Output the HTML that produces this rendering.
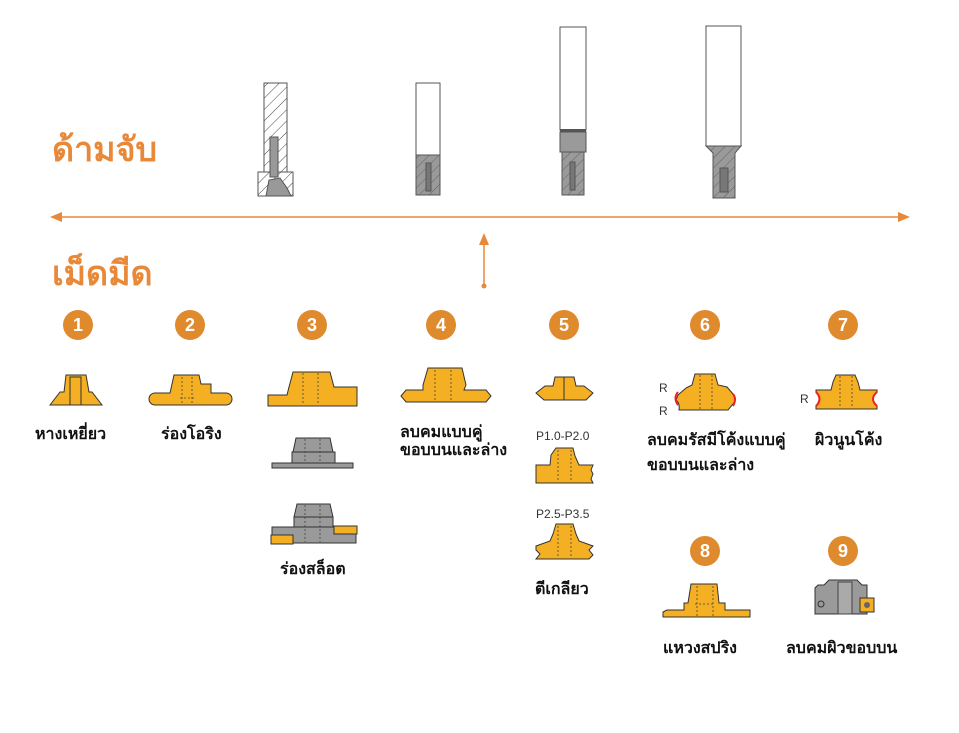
<!DOCTYPE html>
<html><head><meta charset="utf-8"><style>
body{margin:0;background:#fff;}
svg text{font-family:"Liberation Sans","Noto Sans CJK SC",sans-serif;}
.t{font-weight:bold;font-size:16px;fill:#111;}
.n{font-weight:bold;font-size:18px;fill:#fff;text-anchor:middle;}
.o{fill:#F5AF22;stroke:#333;stroke-width:1;}
.g{fill:#9a9a9a;stroke:#333;stroke-width:1;}
.d{stroke:#444;stroke-width:0.8;stroke-dasharray:2 2;fill:none;}
</style></head><body>
<svg width="959" height="728" xmlns="http://www.w3.org/2000/svg">
<defs>
<pattern id="h" width="8" height="8" patternUnits="userSpaceOnUse" patternTransform="rotate(45)"><rect width="8" height="8" fill="#fff"/><line x1="0" y1="0" x2="0" y2="8" stroke="#444" stroke-width="1"/></pattern>
<pattern id="hg" width="7" height="7" patternUnits="userSpaceOnUse" patternTransform="rotate(45)"><rect width="7" height="7" fill="#9a9a9a"/><line x1="0" y1="0" x2="0" y2="7" stroke="#555" stroke-width="0.8"/></pattern>
</defs>
<text x="52" y="161" font-size="34" font-weight="bold" fill="#E8893A">ด้ามจับ</text>
<text x="52" y="285" font-size="34" font-weight="bold" fill="#E8893A">เม็ดมีด</text>
<line x1="60" y1="217" x2="900" y2="217" stroke="#E8893A" stroke-width="1.5"/>
<polygon points="50,217 62,212 62,222" fill="#E8893A"/>
<polygon points="910,217 898,212 898,222" fill="#E8893A"/>
<line x1="484" y1="286" x2="484" y2="243" stroke="#E8893A" stroke-width="1.5"/>
<polygon points="484,233 479,245 489,245" fill="#E8893A"/>
<circle cx="484" cy="286" r="2.5" fill="#E8893A"/>
<!-- holder 1 -->
<rect x="264" y="83" width="23" height="90" fill="url(#h)" stroke="#555"/>
<rect x="258" y="172" width="35" height="24" fill="url(#h)" stroke="#555"/>
<rect x="270" y="137" width="8" height="40" fill="#999" stroke="#555"/>
<polygon points="266,196 269,180 280,178 287,188 291,196" fill="#999" stroke="#555"/>
<!-- holder 2 -->
<rect x="416" y="83" width="24" height="72" fill="#fff" stroke="#555"/>
<rect x="416" y="155" width="24" height="40" fill="url(#hg)" stroke="#555"/>
<rect x="426" y="163" width="5" height="28" fill="#777" stroke="#555"/>
<!-- holder 3 -->
<rect x="560" y="27" width="26" height="103" fill="#fff" stroke="#555"/>
<rect x="560" y="129" width="26" height="3" fill="#555"/>
<rect x="560" y="132" width="26" height="20" fill="#9a9a9a" stroke="#555"/>
<rect x="562" y="152" width="22" height="43" fill="url(#hg)" stroke="#555"/>
<rect x="570" y="162" width="5" height="28" fill="#777" stroke="#555"/>
<!-- holder 4 -->
<rect x="706" y="26" width="35" height="120" fill="#fff" stroke="#555"/>
<polygon points="706,146 741,146 735,153 735,198 713,198 713,153" fill="url(#hg)" stroke="#555"/>
<rect x="720" y="168" width="8" height="24" fill="#777" stroke="#555"/>

<g fill="#E08A2E">
<circle cx="78" cy="325" r="15"/><circle cx="190" cy="325" r="15"/><circle cx="312" cy="325" r="15"/><circle cx="441" cy="325" r="15"/><circle cx="564" cy="325" r="15"/><circle cx="705" cy="325" r="15"/><circle cx="843" cy="325" r="15"/><circle cx="705" cy="551" r="15"/><circle cx="843" cy="551" r="15"/></g>
<text class="n" x="78" y="331">1</text><text class="n" x="190" y="331">2</text><text class="n" x="312" y="331">3</text><text class="n" x="441" y="331">4</text><text class="n" x="564" y="331">5</text><text class="n" x="705" y="331">6</text><text class="n" x="843" y="331">7</text><text class="n" x="705" y="557">8</text><text class="n" x="843" y="557">9</text>

<!-- insert 1 -->
<polygon class="o" points="50,405 60,392 64,392 66,375 86,375 89,392 92,392 102,405"/>
<rect x="70" y="377" width="11" height="28" class="o"/>
<!-- insert 2 -->
<path class="o" d="M155,393 L170,393 L172,384 L174,375 L199,375 L201,384 L211,384 L211,393 L226,393 A5,5 0 0 1 226,405 L155,405 A5,5 0 0 1 155,393Z"/>
<path class="d" d="M182,377 V404 M192,377 V404 M180,398 H195"/>
<!-- insert 3 -->
<polygon class="o" points="268,395 287,395 289,387 293,372 330,372 334,387 357,387 357,406 268,406"/>
<path class="d" d="M303,373 V405 M318,373 V405"/>
<rect x="272" y="463" width="81" height="5" class="g"/>
<rect x="292" y="452" width="43" height="11" class="g"/>
<polygon class="g" points="293,452 296,438 330,438 333,452"/>
<path class="d" d="M305,439 V462 M320,439 V462"/>
<rect x="272" y="527" width="84" height="16" class="g"/>
<rect x="294" y="517" width="39" height="10" class="g"/>
<polygon class="g" points="294,517 297,504 330,504 333,517"/>
<path class="d" d="M305,505 V542 M320,505 V542"/>
<rect x="271" y="535" width="22" height="9" class="o"/>
<rect x="334" y="526" width="23" height="8" class="o"/>
<!-- insert 4 -->
<polygon class="o" points="401,396 406,390 423,390 423,385 428,368 462,368 466,385 464,390 486,390 491,396 486,402 406,402"/>
<path class="d" d="M435,370 V401 M451,370 V401"/>
<!-- insert 5 -->
<polygon class="o" points="536,393 545,386 553,386 555,377 574,377 576,386 584,386 593,393 586,400 544,400"/>
<line x1="564" y1="377" x2="564" y2="400" stroke="#333"/>
<text x="536" y="440" font-size="12" fill="#333">P1.0-P2.0</text>
<polygon class="o" points="536,465 550,465 551,455 556,448 573,448 575,456 579,465 593,465 591,470 593,474 591,479 593,483 536,483"/>
<path class="d" d="M558,450 V482 M571,450 V482"/>
<text x="536" y="518" font-size="12" fill="#333">P2.5-P3.5</text>
<polygon class="o" points="536,546 550,541 553,534 556,524 573,524 576,534 579,541 593,546 589,550 593,555 589,559 536,559 540,554 536,550"/>
<path class="d" d="M558,526 V558 M571,526 V558"/>
<!-- insert 6 -->
<path class="o" d="M678,395 L686,388 L692,385 L695,374 L715,374 L718,385 L727,387 L733,394 Q737,399 733,404 L728,410 L679,410 Q680,403 676,400 Z"/>
<path d="M678,392 Q673,398 678,405" stroke="#e22" stroke-width="2" fill="none"/>
<path d="M733,394 Q737,399 733,406" stroke="#e22" stroke-width="2" fill="none"/>
<path class="d" d="M700,375 V409 M712,375 V409"/>
<text x="659" y="392" font-size="12" fill="#333">R</text><text x="659" y="415" font-size="12" fill="#333">R</text>
<!-- insert 7 -->
<path class="o" d="M816,390 L831,390 L833,382 L836,375 L855,375 L858,382 L860,390 L877,390 L877,392 Q869,399 877,406 L877,409 L816,409 L816,406 Q823,399 816,392Z"/>
<path d="M816,392 Q823,399 816,406 M877,392 Q869,399 877,406" stroke="#e22" stroke-width="2" fill="none"/>
<path class="d" d="M840,376 V408 M852,376 V408"/>
<text x="800" y="403" font-size="12" fill="#333">R</text>
<!-- insert 8 -->
<polygon class="o" points="663,612 667,610 684,610 684,603 688,603 691,584 717,584 719,603 725,603 725,610 750,610 750,617 663,617"/>
<path class="d" d="M697,586 V616 M713,586 V616 M695,604 H715"/>
<!-- insert 9 -->
<polygon class="g" points="815,596 815,588 818,585 824,585 829,580 857,580 862,585 867,585 867,614 815,614"/>
<rect x="838" y="582" width="14" height="32" fill="#aaa" stroke="#444"/>
<circle cx="821" cy="604" r="3" fill="none" stroke="#333"/>
<rect x="860" y="598" width="14" height="14" class="o"/>
<circle cx="867" cy="605" r="3" fill="#666"/>

<text class="t" x="35" y="439">หางเหยี่ยว</text>
<text class="t" x="161" y="439">ร่องโอริง</text>
<text class="t" x="280" y="574">ร่องสล็อต</text>
<text class="t" x="400" y="437">ลบคมแบบคู่</text>
<text class="t" x="400" y="455">ขอบบนและล่าง</text>
<text class="t" x="535" y="594">ตีเกลียว</text>
<text class="t" x="647" y="445">ลบคมรัสมีโค้งแบบคู่</text>
<text class="t" x="647" y="470">ขอบบนและล่าง</text>
<text class="t" x="815" y="445">ผิวนูนโค้ง</text>
<text class="t" x="663" y="653">แหวงสปริง</text>
<text class="t" x="786" y="653">ลบคมผิวขอบบน</text>
</svg>
</body></html>
